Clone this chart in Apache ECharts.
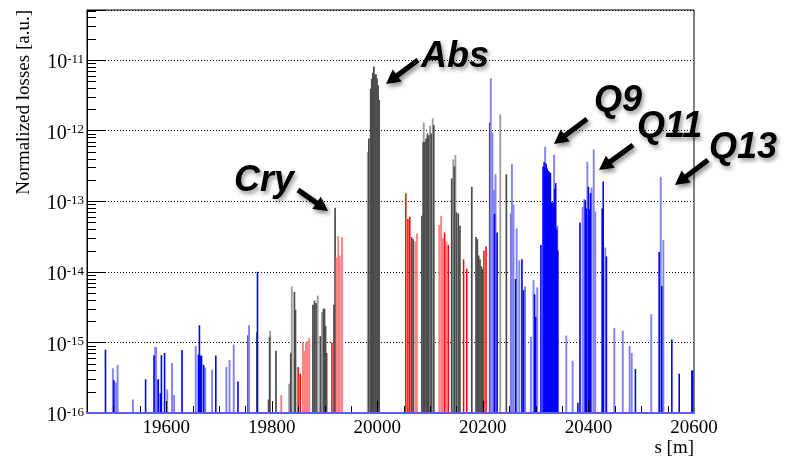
<!DOCTYPE html>
<html>
<head>
<meta charset="utf-8">
<script src="https://cdn.jsdelivr.net/npm/echarts@6/dist/echarts.min.js"></script>
<style>html,body{margin:0;padding:0;background:#fff}#c{width:788px;height:458px}</style>
</head>
<body>
<div id="c"></div>
<script>
// ---- axis ranges / ticks ----
const X_MIN = 19450, X_MAX = 20600;
const Y_MIN = 1e-16, Y_MAX = 5.1e-11;
const xTickLabels = [19600, 19800, 20000, 20200, 20400, 20600];

// ---- data: s position [m] and normalized loss, one pair of arrays per colour group ----
const blueS = [19485,19501,19561,19577,19585,19589,19591,19597,19630,19661,19663,19665,19667,19671,19694,19736,19773,
  20222,20227,20262,20274,20277,20298,20300,20310,
  20314,20316,20318,20320,20322,20324,20326,20328,20330,20332,20334,20336,20338,20340,20342,
  20380,20384,20394,20396,20400,20402,20404,20426,20428,20434,20489,20534,20539,20558,20572,20596,20597.5];
const blueV = [7.9e-16,2.9e-16,3.0e-16,6.6e-16,3.0e-16,1.9e-16,6.6e-16,7.1e-16,7.8e-16,6.7e-16,1.75e-15,6.5e-16,6.5e-16,4.8e-16,6.5e-16,2.8e-16,1.0e-14,
  6.6e-14,3.6e-14,7.9e-15,1.5e-14,5.5e-15,4.8e-15,2.3e-15,2.4e-14,
  3.1e-13,3.6e-13,3.0e-13,3.4e-13,2.9e-13,2.7e-13,2.6e-13,2.5e-13,9.5e-14,9.6e-14,9.6e-14,1.5e-13,1.8e-13,4.0e-14,2.0e-14,
  1.4e-16,5.0e-14,1.03e-13,7.9e-14,1.6e-13,7.7e-14,1.3e-13,7.9e-14,1.9e-13,1.65e-14,4.2e-16,1.9e-14,6.3e-15,1.1e-15,3.6e-16,4.0e-16,4.0e-16];

const lightBlueS = [19499,19505,19508,19537,19579,19581,19584,19602,19611,19615,19656,19674,19687,19714,19720,19728,19757,
  20215,20218,20221,20224,20253,20255,20258,20264,20269,20280,20291,20296,20303,20318,20329,20335,20341,20358,20370,
  20389,20392,20398,20406,20410,20413,20432,20449,20465,20478,20482,20519,20537,20542];
const lightBlueV = [4.3e-16,2.7e-16,4.8e-16,1.55e-16,8.6e-16,8.6e-16,3.0e-16,2.15e-16,5.1e-16,1.8e-16,8.9e-16,4.4e-16,4.1e-16,4.5e-16,5.6e-16,9.3e-16,1.75e-15,
  5.5e-12,9.3e-13,1.45e-13,2.4e-13,6.7e-14,3.4e-13,9.0e-14,4.1e-14,1.45e-14,6.2e-15,1.2e-15,7.6e-15,6.0e-15,5.9e-13,9.8e-14,4.6e-13,4.5e-14,1.25e-15,5.5e-16,
  8.3e-14,1.07e-13,3.6e-13,1.55e-13,5.4e-13,7.2e-14,2.2e-14,1.6e-15,1.47e-15,8.9e-16,7.1e-16,2.5e-15,2.2e-13,2.8e-14];

const darkGrayS = [19755,19772,19794,19796,19808,19836,19843,19845,19878,19881,19884,19892,19898,19900,19902,19904,19918,19920,
  19984,19987.5,19989.5,19991.5,19993.5,19995.5,19997.5,19999.5,20001.5,20003.5,
  20065,20068,20084.5,20087,20090,20092.5,20095,20097.5,20102,20107,
  20141,20146,20150,20153.5,20156.5,20179,20187,20189.5,20192,20194.5,20197,20199,20213,20244.5];
const darkGrayV = [1.26e-15,1.39e-15,1.55e-16,1.2e-15,7.6e-16,7.1e-16,5.2e-15,2.9e-15,3.4e-15,3.9e-15,3.6e-15,1.23e-15,3.0e-15,3.0e-15,1.7e-15,7.1e-16,3.4e-15,8.1e-14,
  7.7e-13,3.9e-12,5.4e-12,6.6e-12,8.1e-12,6.2e-12,6.3e-12,5.5e-12,4.4e-12,2.7e-12,
  3.1e-14,2.9e-14,6.2e-14,6.9e-13,6.9e-13,7.7e-13,9.1e-13,8.5e-13,9.1e-13,1.2e-12,
  2.1e-13,3.1e-13,6.9e-14,6.7e-14,4.5e-14,1.6e-13,3.1e-14,2.9e-14,1.7e-14,1.5e-14,1.2e-14,1.1e-14,1.3e-12,2.4e-13];

const lightGrayS = [19797,19833,19838,19887,19895,19982,20088,20100,20105,20144,20148,20233];
const lightGrayV = [1.47e-15,2.6e-16,6.2e-15,4.6e-15,2.7e-15,5.0e-13,1.3e-12,1.17e-12,1.5e-12,3.9e-13,4.5e-13,1.7e-12];

const redS = [19850,19854,19914,20054,20058,20061.5,20127.5,20134.5,20163.5,20169.5,20202,20206];
const redV = [4.5e-16,3.6e-16,1.0e-15,1.3e-13,5.6e-14,6.0e-14,3.6e-14,2.4e-14,1.5e-14,1.1e-14,2.0e-14,2.3e-14];

const lightRedS = [19818,19859,19862,19865,19868,19871,19923,19926,19929,19933,20072,20075,20117.5,20121,20124,20131];
const lightRedV = [1.8e-16,1.0e-15,7.6e-16,1.0e-15,1.05e-15,1.15e-15,1.6e-14,3.2e-14,1.7e-14,3.1e-14,2.7e-14,3.5e-14,4.6e-14,6.2e-14,3.0e-14,2.7e-14];

// ---- annotations ----
const annoText = ['Abs', 'Cry', 'Q9', 'Q11', 'Q13'];

const SERIF = '"Liberation Serif", "Times New Roman", serif';
const SANS = '"Liberation Sans", Arial, sans-serif';

function barSeries(S, V, color, w) {
  return {
    type: 'custom', xAxisIndex: 0, yAxisIndex: 0, clip: true,
    data: S.map((s, i) => [s, V[i]]),
    itemStyle: { color: color },
    renderItem: function (params, api) {
      const p = api.coord([api.value(0), api.value(1)]);
      const b = api.coord([api.value(0), Y_MIN]);
      return { type: 'rect', shape: { x: p[0] - w / 2, y: p[1], width: w, height: b[1] - p[1] },
        style: { fill: color } };
    }
  };
}

const chart = echarts.init(document.getElementById('c'), null, { renderer: 'canvas' });
chart.setOption({
  animation: false,
  backgroundColor: '#fff',
  grid: { left: 87, top: 10, width: 607, height: 408, show: true, borderColor: '#000', borderWidth: 1 },
  xAxis: [
    { type: 'value', position: 'bottom', min: X_MIN, max: X_MAX, z: 10,
      axisLine: { show: true, onZero: false, lineStyle: { color: '#5c5cff', width: 2 } },
      axisTick: { show: false },
      axisLabel: { customValues: xTickLabels, margin: 6, fontFamily: SERIF, fontSize: 19, color: '#000',
        formatter: v => String(v) },
      splitLine: { show: false },
      name: 's [m]', nameLocation: 'end', nameGap: 0,
      nameTextStyle: { fontFamily: SERIF, fontSize: 19, color: '#000', align: 'right', verticalAlign: 'top', padding: [26, 0, 0, 0] } }
  ],
  yAxis: [
    { type: 'log', logBase: 10, min: Y_MIN, max: Y_MAX,
      axisLine: { show: true, lineStyle: { color: '#000' } },
      axisTick: { show: true, inside: true, length: 18, lineStyle: { color: '#000' } },
      splitLine: { show: true, lineStyle: { color: '#000', width: 1, type: [1, 2] } },
      axisLabel: { margin: 3, padding: [6, 0, 0, 0],
        formatter: function (v) {
          const e = Math.log10(v);
          if (Math.abs(e - Math.round(e)) > 1e-6) return '';
          return '{b|10}{e|' + Math.round(e) + '}';
        },
        rich: {
          b: { fontFamily: SERIF, fontSize: 20, lineHeight: 20, color: '#000' },
          e: { fontFamily: SERIF, fontSize: 13, lineHeight: 13, color: '#000', verticalAlign: 'top' }
        } } }
  ],
  series: [
    barSeries(lightGrayS, lightGrayV, '#9a9a9a', 1.8),
    barSeries(darkGrayS, darkGrayV, '#4b4b4b', 1.7),
    barSeries(lightRedS, lightRedV, '#ff8080', 1.9),
    barSeries(redS, redV, '#ff0000', 1.5),
    barSeries(lightBlueS, lightBlueV, '#8080ff', 1.9),
    barSeries(blueS, blueV, '#0000ff', 1.6)
  ]
});

// ---- graphics: ticks (positioned via the axis scales), axis title, annotations ----
const gx0 = chart.convertToPixel({ xAxisIndex: 0 }, X_MIN);
const gyB = chart.convertToPixel({ yAxisIndex: 0 }, Y_MIN);
const gfx = [];
for (let e = -16; e <= -11; e++) {
  for (let m = 2; m <= 9; m++) {
    const v = m * Math.pow(10, e);
    if (v > Y_MAX) continue;
    const y = Math.round(chart.convertToPixel({ yAxisIndex: 0 }, v)) + 0.5;
    gfx.push({ type: 'line', z: 20, shape: { x1: gx0, y1: y, x2: gx0 + 9, y2: y }, style: { stroke: '#000', lineWidth: 1 } });
  }
}
for (let s = X_MIN + 50; s < X_MAX; s += 50) {
  const major = (s % 200) === 0;
  const x = Math.round(chart.convertToPixel({ xAxisIndex: 0 }, s)) + 0.5;
  gfx.push({ type: 'line', z: 20, shape: { x1: x, y1: gyB - 1, x2: x, y2: gyB - (major ? 12 : 7) },
    style: { stroke: '#000', lineWidth: 1 } });
}
gfx.push({ type: 'text', x: 24, y: 10, rotation: Math.PI / 2, z: 20,
  style: { text: 'Normalized losses [a.u.]', font: '19px ' + SERIF, fill: '#000', align: 'right', verticalAlign: 'middle' } });

function arrow(x1, y1, x2, y2) {
  const dx = x2 - x1, dy = y2 - y1, L = Math.hypot(dx, dy);
  const ux = dx / L, uy = dy / L, nx = -uy, ny = ux;
  const sw = 2.6, hw = 7.5, hl = 14;
  const bx = x2 - ux * hl, by = y2 - uy * hl;
  return { type: 'polygon', z: 30,
    shape: { points: [[x1 + nx * sw, y1 + ny * sw], [bx + nx * sw, by + ny * sw], [bx + nx * hw, by + ny * hw], [x2, y2],
      [bx - nx * hw, by - ny * hw], [bx - nx * sw, by - ny * sw], [x1 - nx * sw, y1 - ny * sw]] },
    style: { fill: '#000', shadowColor: 'rgba(0,0,0,0.45)', shadowBlur: 4, shadowOffsetX: 2, shadowOffsetY: 3 } };
}
const arrows = [[418, 60, 386, 84], [298, 190, 328, 211], [587, 119, 554, 144], [633, 145, 599, 170], [708, 160, 675, 185]];
const textPos = [[421, 57], [234, 181], [594, 101], [637, 127], [709, 148]];
arrows.forEach(a => gfx.push(arrow(a[0], a[1], a[2], a[3])));
annoText.forEach((t, i) => gfx.push({ type: 'text', x: textPos[i][0], y: textPos[i][1], z: 30,
  style: { text: t, font: 'italic bold 36px ' + SANS, fill: '#000', align: 'left', verticalAlign: 'middle',
    textShadowColor: 'rgba(0,0,0,0.4)', textShadowBlur: 4, textShadowOffsetX: 2, textShadowOffsetY: 3 } }));

chart.setOption({ graphic: gfx });
</script>
</body>
</html>
